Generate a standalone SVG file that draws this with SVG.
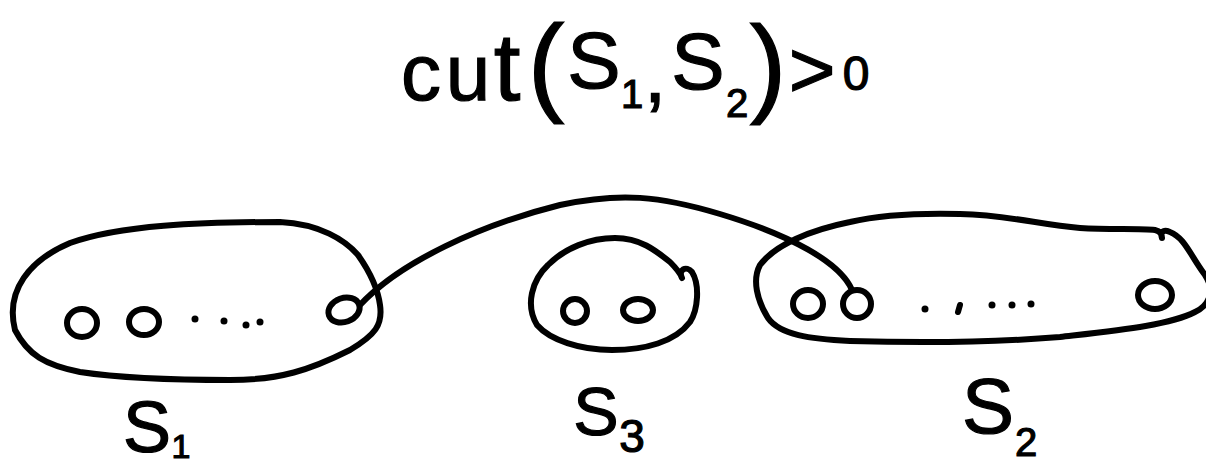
<svg xmlns="http://www.w3.org/2000/svg" width="1206" height="466" viewBox="0 0 1206 466">
<style>
.ink{fill:none;stroke:#000;stroke-width:6;stroke-linecap:round;stroke-linejoin:round}
.dot{fill:#000}
text{font-family:"Liberation Sans","DejaVu Sans",sans-serif;fill:#000;stroke:#000;stroke-width:1.2;text-anchor:middle}
</style>
<rect width="1206" height="466" fill="#fff"/>
<g id="title">
<text x="421" y="100" font-size="80">c</text>
<text x="468" y="100" font-size="80">u</text>
<text x="507" y="100" font-size="96">t</text>
<text x="546" y="101" font-size="110">(</text>
<text x="594" y="88" font-size="80">S</text>
<text x="632" y="108" font-size="40">1</text>
<text x="655" y="102" font-size="80">,</text>
<text x="698" y="89" font-size="80">S</text>
<text x="737" y="117" font-size="40">2</text>
<text x="768" y="102" font-size="110">)</text>
<text x="812" y="97" font-size="80">&gt;</text>
<text x="856" y="90" font-size="48">0</text>
</g>
<g id="connectors">
<path class="ink" d="M 360,305 C 400,262 480,225 560,205 C 620,192 660,196 720,214 C 790,235 840,262 852,290"/>
</g>
<g id="S1">
<path class="ink" d="M 15,330 C 5,290 30,260 70,243 C 120,225 200,222 280,222 C 320,224 345,240 358,255 C 370,272 378,290 380,305 C 383,325 375,335 350,350 C 310,370 280,380 230,380 C 170,380 120,378 80,372 C 45,365 28,355 15,330 Z"/>
<ellipse class="ink" cx="82" cy="323" rx="15" ry="14"/>
<ellipse class="ink" cx="144" cy="322" rx="15" ry="13"/>
<circle class="dot" cx="195" cy="319" r="3.5"/>
<circle class="dot" cx="224" cy="321" r="3.5"/>
<circle class="dot" cx="246" cy="325" r="3.5"/>
<circle class="dot" cx="260" cy="322" r="3.5"/>
<ellipse class="ink" cx="344" cy="310" rx="16" ry="12" transform="rotate(-20 344 310)"/>
<text x="147" y="452" font-size="72">S</text>
<text x="181" y="458" font-size="34">1</text>
</g>
<g id="S3">
<path class="ink" d="M 682,278 C 678,270 686,265 692,272 C 700,285 698,310 690,322 C 675,342 645,350 612,350 C 580,350 550,340 537,325 C 525,305 532,280 548,265 C 565,248 590,238 615,238 C 640,238 655,250 670,262 C 675,267 680,272 682,278"/>
<ellipse class="ink" cx="575" cy="311" rx="12" ry="12"/>
<ellipse class="ink" cx="638" cy="310" rx="15" ry="11"/>
<text x="596" y="435" font-size="68">S</text>
<text x="632" y="452" font-size="46">3</text>
</g>
<g id="S2">
<path class="ink" d="M 1162,238 C 1160,232 1163,229 1170,232 C 1185,238 1190,255 1205,275 C 1215,290 1210,305 1195,312 C 1170,325 1120,330 1060,337 C 1000,342 920,343 850,341 C 810,339 780,335 768,318 C 757,300 752,280 760,265 C 775,245 810,230 850,222 C 880,215 920,213 960,214 C 1010,215 1040,225 1080,228 C 1110,230 1140,228 1155,230 C 1160,231 1162,234 1162,238"/>
<ellipse class="ink" cx="808" cy="304" rx="15" ry="14"/>
<circle class="ink" cx="857" cy="304" r="14"/>
<circle class="dot" cx="925" cy="309" r="3.5"/>
<path class="ink" d="M 960,305 L 958,312"/>
<circle class="dot" cx="992" cy="305" r="3.5"/>
<circle class="dot" cx="1012" cy="305" r="3.5"/>
<circle class="dot" cx="1031" cy="304" r="3.5"/>
<ellipse class="ink" cx="1155" cy="295" rx="17" ry="14"/>
<text x="988" y="433" font-size="78">S</text>
<text x="1026" y="456" font-size="40">2</text>
</g>
</svg>
